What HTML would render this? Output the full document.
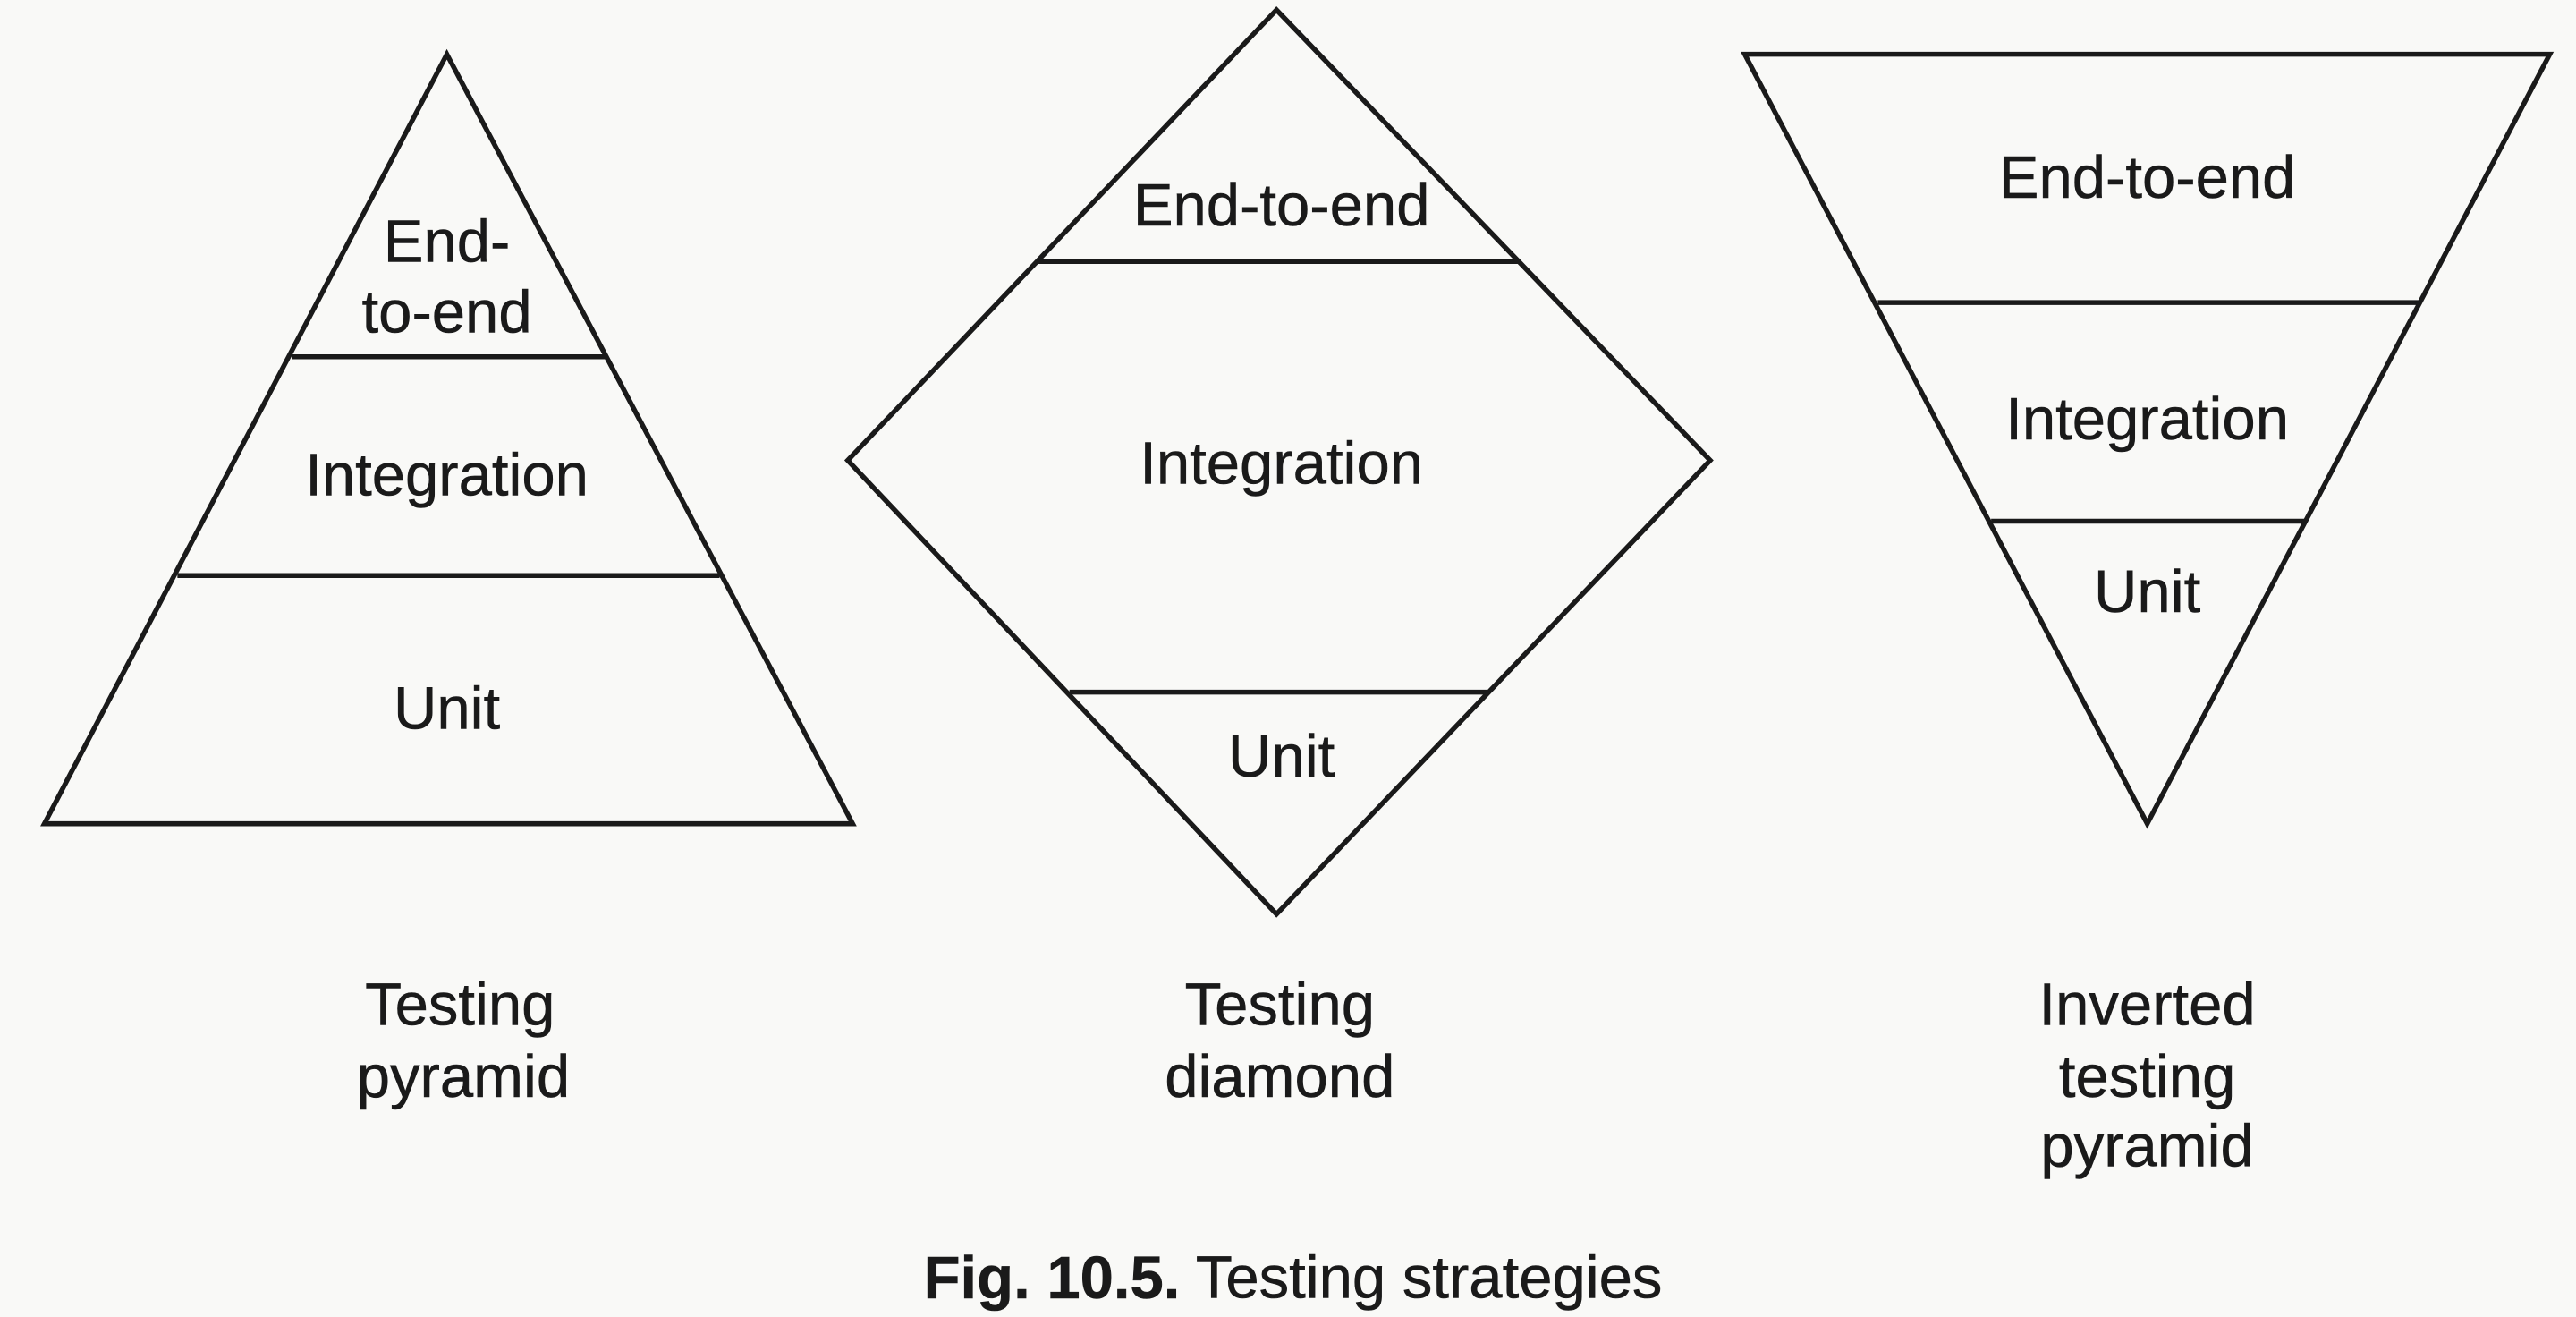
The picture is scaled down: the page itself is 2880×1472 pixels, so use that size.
<!DOCTYPE html>
<html><head><meta charset="utf-8"><style>
html,body{margin:0;padding:0;background:#f9f9f7;}
svg{display:block;}
text{font-family:"Liberation Sans",sans-serif;fill:#1a1a1a;}
</style></head><body>
<svg width="2880" height="1472" viewBox="0 0 1568 801" preserveAspectRatio="none" xmlns="http://www.w3.org/2000/svg">
<rect width="1568" height="801" fill="#f9f9f7"/>
<g fill="none" stroke="#1a1a1a" stroke-width="3" stroke-linejoin="miter">
<polygon points="272,33 27,501 519,501"/>
<line x1="178" y1="217" x2="369" y2="217"/>
<line x1="108" y1="350" x2="438" y2="350"/>
<polygon points="777,6 1041,280 777,556 516,280"/>
<line x1="632" y1="159" x2="925" y2="159"/>
<line x1="651" y1="421" x2="905" y2="421"/>
<polygon points="1062,33 1552,33 1307,501"/>
<line x1="1143" y1="184" x2="1473" y2="184"/>
<line x1="1212" y1="317" x2="1403" y2="317"/>
</g>
<g font-size="36.5" text-anchor="middle" dominant-baseline="central" stroke="#1a1a1a" stroke-width="0.3">
<text x="272" y="147">End-</text>
<text x="272" y="190">to-end</text>
<text x="272" y="289">Integration</text>
<text x="272" y="431">Unit</text>
<text x="780" y="125">End-to-end</text>
<text x="780" y="282">Integration</text>
<text x="780" y="460">Unit</text>
<text x="1307" y="108">End-to-end</text>
<text x="1307" y="255">Integration</text>
<text x="1307" y="360">Unit</text>
<text x="280" y="611">Testing</text>
<text x="282" y="655">pyramid</text>
<text x="779" y="611">Testing</text>
<text x="779" y="655">diamond</text>
<text x="1307" y="611">Inverted</text>
<text x="1307" y="655">testing</text>
<text x="1307" y="697">pyramid</text>
<text x="787" y="777"><tspan font-weight="bold">Fig. 10.5.</tspan> Testing strategies</text>
</g>
</svg>
</body></html>
